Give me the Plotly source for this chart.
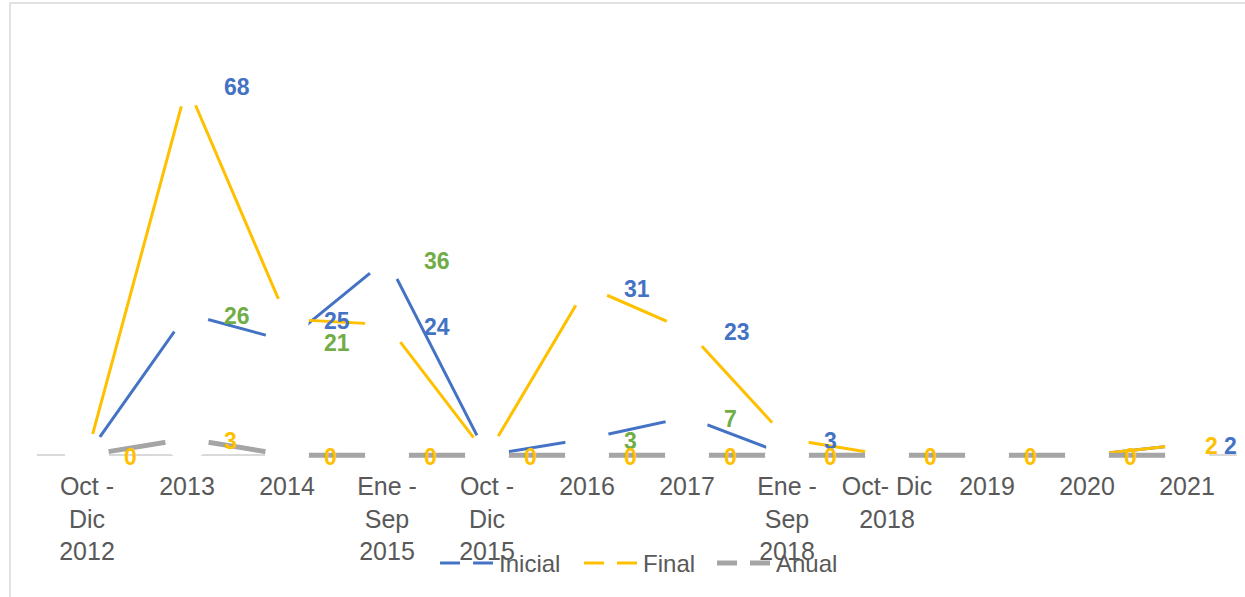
import plotly.graph_objects as go

categories = ["Oct -<br>Dic<br>2012", "2013", "2014", "Ene -<br>Sep<br>2015", "Oct -<br>Dic<br>2015",
              "2016", "2017", "Ene -<br>Sep<br>2018", "Oct- Dic<br>2018", "2019", "2020", "2021"]
inicial = [0, 26, 21, 36, 0, 3, 7, 0, 0, 0, 0, 2]
final = [0, 68, 25, 24, 0, 31, 23, 3, 0, 0, 0, 2]
anual = [0, 3, 0, 0, 0, 0, 0, 0, 0, 0, 0, 0]

# which data labels are visible in the original
inicial_show = [0, 1, 1, 1, 0, 1, 1, 0, 0, 0, 0, 1]
final_show = [0, 1, 1, 1, 0, 1, 1, 1, 0, 0, 0, 1]
anual_show = [1, 1, 1, 1, 1, 1, 1, 1, 1, 1, 1, 0]

BLUE = "#4472C4"
YELLOW = "#FFC000"
GRAY = "#A5A5A5"
GREEN = "#70AD47"
TXT = "#595959"

fig = go.Figure()

series = [
    ("Inicial", inicial, BLUE, 3),
    ("Final", final, YELLOW, 3),
    ("Anual", anual, GRAY, 5),
]
for name, vals, col, w in series:
    fig.add_trace(go.Scatter(
        x=categories, y=vals, mode="lines+markers", name=name, showlegend=False,
        line=dict(color=col, width=w),
        marker=dict(size=44, color="white", line=dict(width=0)),
        hoverinfo="skip", cliponaxis=False,
    ))

# legend entries (dashed symbols as in original), one legend box per entry
legend_entries = [("Inicial", BLUE, 3, "legend"), ("Final", YELLOW, 3, "legend2"), ("Anual", GRAY, 5, "legend3")]
for name, col, w, lg in legend_entries:
    fig.add_trace(go.Scatter(x=[None], y=[None], mode="lines", name=name, legend=lg,
                             line=dict(color=col, width=w, dash="20px,13px")))

# data labels
label_defs = [
    (inicial, inicial_show, GREEN),
    (final, final_show, BLUE),
    (anual, anual_show, YELLOW),
]
overrides = {(0, 11): dict(color=YELLOW, xshift=16)}
for si, (vals, show, col) in enumerate(label_defs):
    for i, v in enumerate(vals):
        if not show[i]:
            continue
        ov = overrides.get((si, i), {})
        fig.add_annotation(
            x=i, y=v, text=str(v), showarrow=False,
            xanchor="left", yanchor="middle",
            xshift=ov.get("xshift", 35), yshift=-2,
            font=dict(family="Liberation Sans, Arial", size=23, color=ov.get("color", col), weight="bold"),
        )

# outer chart border
fig.add_shape(type="rect", xref="paper", yref="paper",
              x0=-0.0225, x1=1.02, y0=-0.4, y1=1.038,
              line=dict(color="#D9D9D9", width=1.5), fillcolor="rgba(0,0,0,0)")

leg_common = dict(orientation="h", xanchor="left", y=-0.21, yanchor="middle",
                  bgcolor="rgba(0,0,0,0)", font=dict(size=24, color=TXT), itemwidth=54)

fig.update_layout(
    width=1245, height=597,
    margin=dict(l=37, r=8, t=20, b=128),
    paper_bgcolor="white", plot_bgcolor="white",
    font=dict(family="Liberation Sans, Arial", color=TXT),
    legend=dict(x=0.3317, **leg_common),
    legend2=dict(x=0.4517, **leg_common),
    legend3=dict(x=0.5625, **leg_common),
    xaxis=dict(type="category", range=[-0.5, 11.5], showgrid=False, zeroline=False,
               showline=False, ticks="", tickfont=dict(size=25, color=TXT)),
    yaxis=dict(range=[-2.55, 80], showticklabels=False, showgrid=False, showline=False,
               zeroline=True, zerolinecolor="#D9D9D9", zerolinewidth=1.5),
)

fig.write_html("out.html")
